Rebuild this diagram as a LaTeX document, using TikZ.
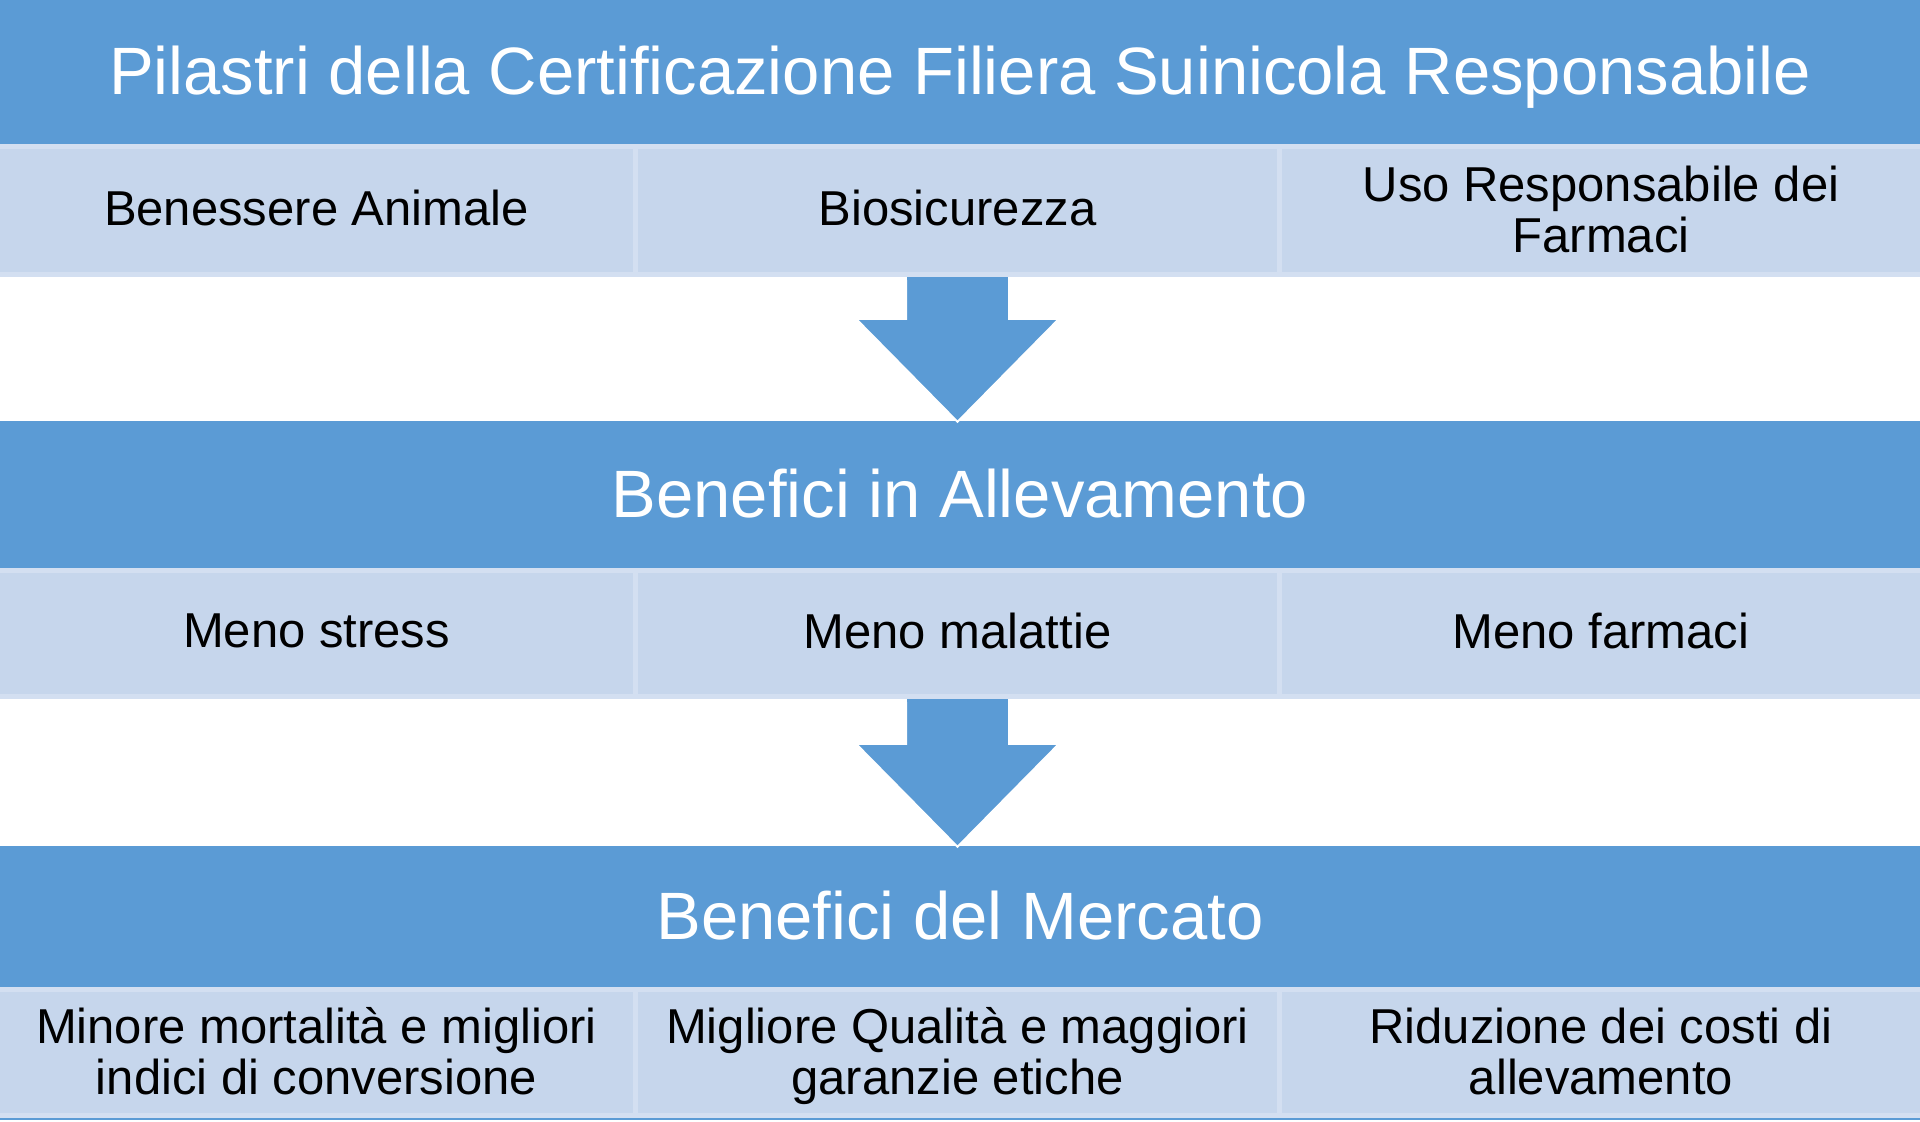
\documentclass[tikz,border=0pt]{standalone}
\usepackage{fontspec}
\setmainfont{Liberation Sans}
\usetikzlibrary{calc}
\definecolor{hdrblue}{HTML}{5B9BD5}
\definecolor{cellblue}{HTML}{C6D6EC}
\definecolor{stripeblue}{HTML}{D3DFF1}
\newcommand\onestrut{\rule[-6pt]{0pt}{39pt}}
\newcommand\twostrut{\rule[-5pt]{0pt}{42pt}}
\newcommand\hdrstrut{\rule[-8pt]{0pt}{61pt}}
\begin{document}
\begin{tikzpicture}[x=1pt,y=-1pt,
  hdr/.style={rectangle, fill=hdrblue, text=white, minimum width=1920pt, inner sep=0pt, font=\fontsize{67}{80}\selectfont},
  band/.style={rectangle, fill=stripeblue, minimum width=1920pt, inner sep=0pt},
  cell/.style={rectangle, fill=cellblue, inner sep=0pt, align=center, text=black, font=\fontsize{49}{51}\selectfont},
  flow/.style={fill=hdrblue, draw=white, line width=2pt, line join=miter}]
\useasboundingbox (0,0) rectangle (1920,1122);
\fill[white] (0,0) rectangle (1920,1122);
% row 1
\node[band, minimum height=133pt] (b1) at (960,210.5) {};
\node[cell, minimum width=633pt, minimum height=123pt] (r1c1) at (316.5,210.5) {\onestrut Benessere Animale};
\node[cell, minimum width=639pt, minimum height=123pt] (r1c2) at (957.5,210.5) {\onestrut Biosicurezza};
\node[cell, minimum width=638pt, minimum height=123pt] (r1c3) at (1601,210.5) {\twostrut Uso Responsabile dei\\\twostrut Farmaci};
% row 2
\node[band, minimum height=131pt] (b2) at (960,633.5) {};
\node[cell, minimum width=633pt, minimum height=121pt] (r2c1) at (316.5,633.5) {\onestrut Meno stress};
\node[cell, minimum width=639pt, minimum height=121pt] (r2c2) at (957.5,633.5) {\onestrut Meno malattie};
\node[cell, minimum width=638pt, minimum height=121pt] (r2c3) at (1601,633.5) {\onestrut Meno farmaci};
% row 3
\node[band, minimum height=131pt] (b3) at (960,1052.5) {};
\node[cell, minimum width=633pt, minimum height=121pt] (r3c1) at (316.5,1052.5) {\twostrut Minore mortalità e migliori\\\twostrut indici di conversione};
\node[cell, minimum width=639pt, minimum height=121pt] (r3c2) at (957.5,1052.5) {\twostrut Migliore Qualità e maggiori\\\twostrut\smash{garanzie etiche}};
\node[cell, minimum width=638pt, minimum height=121pt] (r3c3) at (1601,1052.5) {\twostrut Riduzione dei costi di\\\twostrut allevamento};
% headers
\node[hdr, minimum height=144pt] (h1) at (960,72) {\hdrstrut\smash{Pilastri della Certificazione Filiera Suinicola Responsabile}};
\node[hdr, minimum height=147pt] (h2) at (960,494.5) {\hdrstrut Benefici in Allevamento};
\node[hdr, minimum height=141pt] (h3) at (960,916.5) {\hdrstrut Benefici del Mercato};
% bottom line
\fill[hdrblue] (b3.south west) rectangle ($(b3.south east)+(0,2)$);
% arrows
\coordinate (a1s) at (r1c2 |- b1.south);
\coordinate (a1t) at ($(r1c2 |- h2.north)+(0,1)$);
\coordinate (a2s) at (r2c2 |- b2.south);
\coordinate (a2t) at ($(r2c2 |- h3.north)+(0,1)$);
\draw[flow] ($(a1s)+(-51.5,1)$) -- ($(a1t)+(-51.5,-103)$) -- ($(a1t)+(-101.5,-103)$) -- (a1t) -- ($(a1t)+(101.5,-103)$) -- ($(a1t)+(51.5,-103)$) -- ($(a1s)+(51.5,1)$);
\fill[hdrblue] ($(a1s)+(-50.5,0)$) rectangle ($(a1s)+(50.5,3)$);
\draw[flow] ($(a2s)+(-51.5,1)$) -- ($(a2t)+(-51.5,-103)$) -- ($(a2t)+(-101.5,-103)$) -- (a2t) -- ($(a2t)+(101.5,-103)$) -- ($(a2t)+(51.5,-103)$) -- ($(a2s)+(51.5,1)$);
\fill[hdrblue] ($(a2s)+(-50.5,0)$) rectangle ($(a2s)+(50.5,3)$);
\end{tikzpicture}
\end{document}
